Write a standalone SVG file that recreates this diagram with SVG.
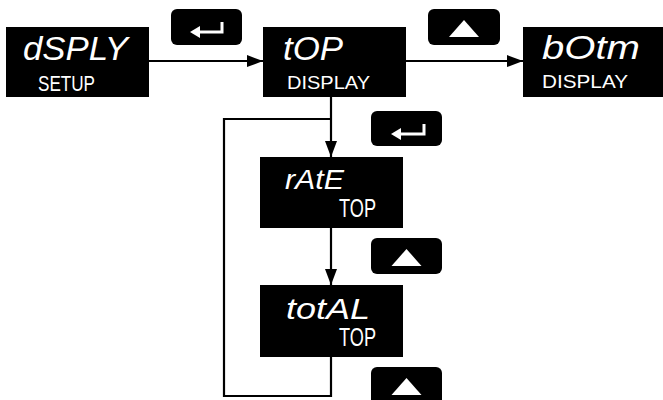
<svg xmlns="http://www.w3.org/2000/svg" width="663" height="400" viewBox="0 0 663 400">
<defs>
<style>
.box{fill:#000}
.btn{fill:#000}
.main{font-family:"Liberation Sans",Arial,sans-serif;font-style:italic;fill:#fff}
.sub{font-family:"Liberation Sans",Arial,sans-serif;fill:#fff}
.ln{fill:none;stroke:#000;stroke-width:2.2}
.icon{fill:none;stroke:#fff;stroke-width:3}
</style>
<marker id="ah" viewBox="0 0 16 12" refX="16" refY="6" markerWidth="16" markerHeight="12" markerUnits="userSpaceOnUse" orient="auto">
<path d="M0,0 L16,6 L0,12 Z" fill="#000"/>
</marker>
</defs>
<rect width="663" height="400" fill="#fff"/>
<g id="connectors">
<line class="ln" x1="149" y1="61" x2="263" y2="61" marker-end="url(#ah)"/>
<line class="ln" x1="406" y1="61" x2="523" y2="61" marker-end="url(#ah)"/>
<line class="ln" x1="331" y1="97" x2="331" y2="157" marker-end="url(#ah)"/>
<line class="ln" x1="331" y1="228" x2="331" y2="285" marker-end="url(#ah)"/>
<polyline class="ln" points="331,357 331,396 224,396 224,119 331,119"/>
</g>
<g id="node-dsply">
<rect class="box" x="6" y="27" width="143" height="70"/>
<text class="main" x="23" y="60" font-size="34" textLength="105" lengthAdjust="spacingAndGlyphs">dSPLY</text>
<text class="sub" x="38" y="91" font-size="22" textLength="57" lengthAdjust="spacingAndGlyphs">SETUP</text>
</g>
<g id="node-top">
<rect class="box" x="263" y="27" width="143" height="70"/>
<text class="main" x="283" y="60" font-size="34" textLength="60" lengthAdjust="spacingAndGlyphs">tOP</text>
<text class="sub" x="287" y="89" font-size="19" textLength="83" lengthAdjust="spacingAndGlyphs">DISPLAY</text>
</g>
<g id="node-botm">
<rect class="box" x="523" y="27" width="140" height="70"/>
<text class="main" x="542" y="59" font-size="34" textLength="98" lengthAdjust="spacingAndGlyphs">bOtm</text>
<text class="sub" x="542" y="88" font-size="19" textLength="86" lengthAdjust="spacingAndGlyphs">DISPLAY</text>
</g>
<g id="node-rate">
<rect class="box" x="260" y="157" width="143" height="71"/>
<text class="main" x="285" y="189" font-size="28" textLength="59" lengthAdjust="spacingAndGlyphs">rAtE</text>
<text class="sub" x="339" y="217" font-size="25" textLength="37" lengthAdjust="spacingAndGlyphs">TOP</text>
</g>
<g id="node-total">
<rect class="box" x="260" y="285" width="143" height="72"/>
<text class="main" x="286" y="319" font-size="30" textLength="84" lengthAdjust="spacingAndGlyphs">totAL</text>
<text class="sub" x="339" y="346" font-size="25" textLength="37" lengthAdjust="spacingAndGlyphs">TOP</text>
</g>
<g id="btn-enter-1">
<rect class="btn" x="171" y="9" width="71" height="36" rx="6"/>
<path class="icon" d="M197,32 H222 V22"/>
<path d="M190,32 L200,26 L200,38 Z" fill="#fff"/>
</g>
<g id="btn-up-1">
<rect class="btn" x="428" y="9" width="72" height="36" rx="6"/>
<path d="M464,20 L449,37 L479,37 Z" fill="#fff"/>
</g>
<g id="btn-enter-2">
<rect class="btn" x="371" y="111" width="71" height="35" rx="6"/>
<path class="icon" d="M398,134 H424 V124"/>
<path d="M391,134 L401,128 L401,140 Z" fill="#fff"/>
</g>
<g id="btn-up-2">
<rect class="btn" x="371" y="238" width="71" height="36" rx="6"/>
<path d="M406.5,249 L391.5,266 L421.5,266 Z" fill="#fff"/>
</g>
<g id="btn-up-3">
<rect class="btn" x="371" y="367" width="71" height="40" rx="6"/>
<path d="M406.5,378 L391.5,395 L421.5,395 Z" fill="#fff"/>
</g>
</svg>
